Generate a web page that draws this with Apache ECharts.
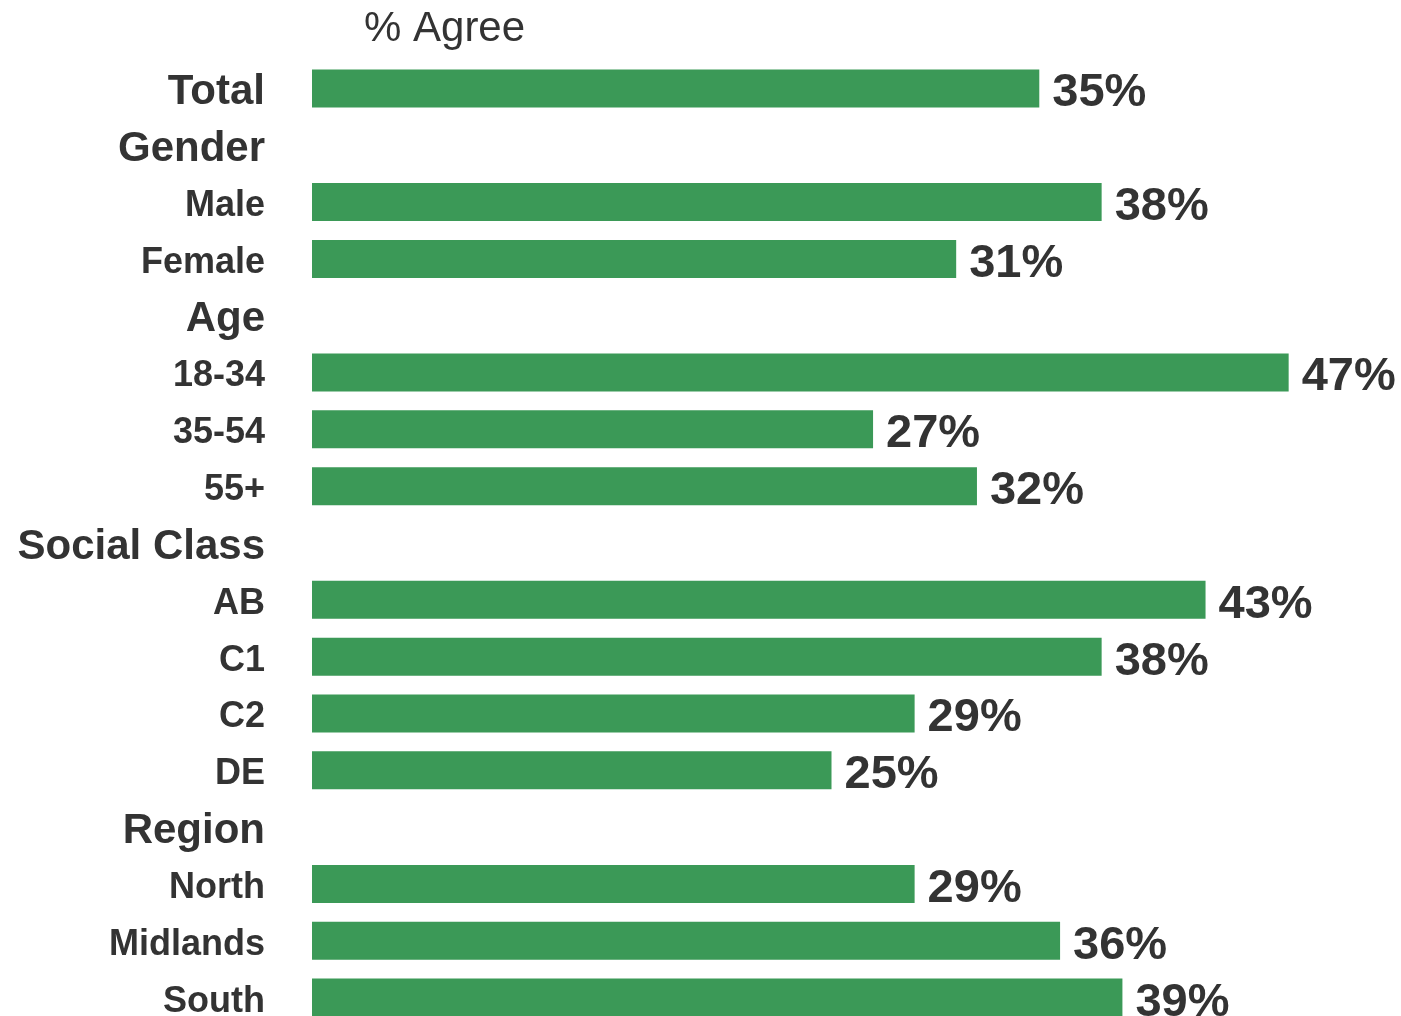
<!DOCTYPE html>
<html>
<head>
<meta charset="utf-8">
<style>html,body{margin:0;padding:0;background:#fff;}#chart{width:1401px;height:1016px;}</style>
<script src="https://cdn.jsdelivr.net/npm/echarts@6/dist/echarts.min.js"></script>
</head>
<body>
<div id="chart"></div>
<script>
const categories = ['Total','Gender','Male','Female','Age','18-34','35-54','55+','Social Class','AB','C1','C2','DE','Region','North','Midlands','South'];
const headers = ['Total','Gender','Age','Social Class','Region'];
const agreeValues = [35,'-',38,31,'-',47,27,32,'-',43,38,29,25,'-',29,36,39];
const subtitle = '% Agree';

const chart = echarts.init(document.getElementById('chart'));
chart.setOption({
  animation: false,
  backgroundColor: '#ffffff',
  title: {
    text: subtitle,
    left: 364, top: 8, padding: 0,
    textStyle: { fontFamily: 'Liberation Sans', fontSize: 42, fontWeight: 'normal', color: '#333333' }
  },
  grid: { left: 312, top: 60, width: 1039, height: 966, containLabel: false, outerBoundsMode: 'none' },
  xAxis: {
    type: 'value', min: 0, max: 50,
    show: false
  },
  yAxis: {
    type: 'category', inverse: true, data: categories,
    axisLine: { show: false }, axisTick: { show: false }, splitLine: { show: false },
    axisLabel: {
      margin: 47,
      formatter: v => headers.includes(v) ? '{h|' + v + '}' : '{s|' + v + '}',
      rich: {
        h: { fontFamily: 'Liberation Sans', fontSize: 42, fontWeight: 'bold', color: '#333333', padding: [8, 0, 0, 0] },
        s: { fontFamily: 'Liberation Sans', fontSize: 36, fontWeight: 'bold', color: '#333333', padding: [8, 0, 0, 0] }
      }
    }
  },
  series: [{
    type: 'bar', data: agreeValues, barWidth: 38,
    itemStyle: { color: '#3b9957' },
    label: {
      show: true, position: 'right', distance: 13, offset: [0, 5],
      formatter: p => p.value + '%',
      fontFamily: 'Liberation Sans', fontSize: 47, fontWeight: 'bold', color: '#333333'
    }
  }]
});
</script>
</body>
</html>
